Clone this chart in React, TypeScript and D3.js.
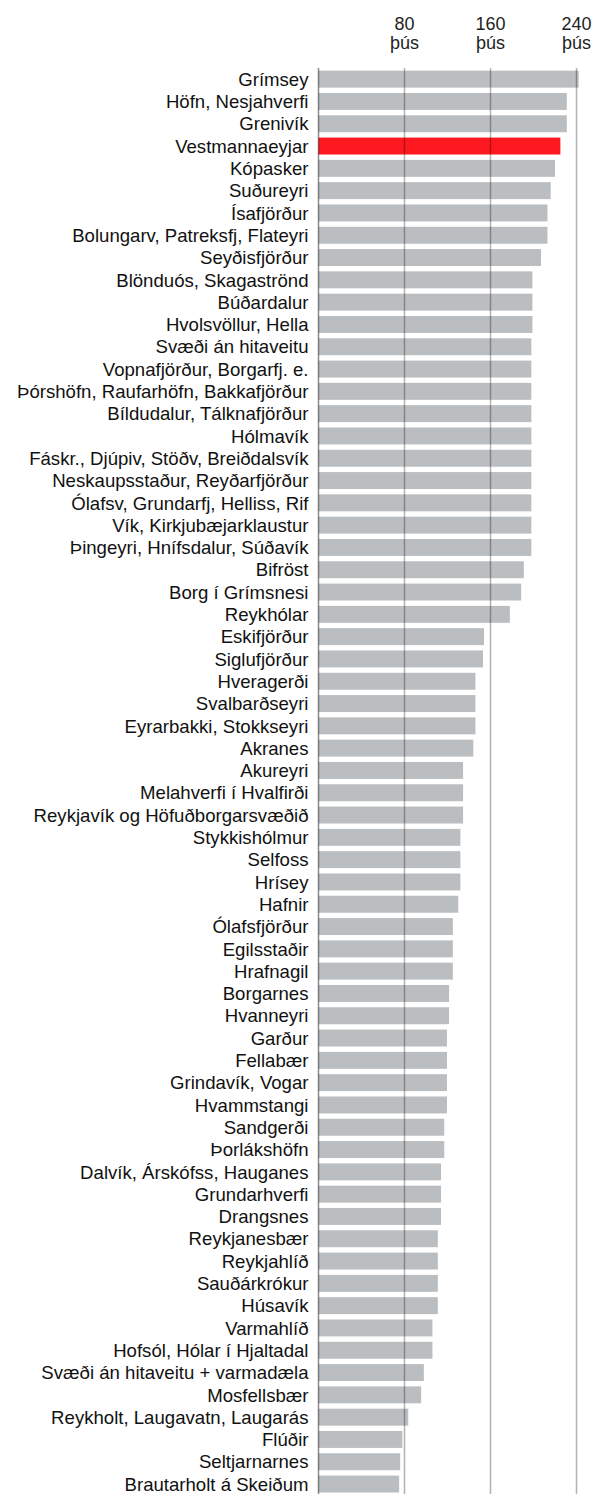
import React from 'react';
import { scaleLinear, scaleBand } from 'd3';

// Staðir, raðað eftir kostnaði
const places: string[] = [
  'Grímsey', 'Höfn, Nesjahverfi', 'Grenivík', 'Vestmannaeyjar', 'Kópasker', 'Suðureyri',
  'Ísafjörður', 'Bolungarv, Patreksfj, Flateyri', 'Seyðisfjörður', 'Blönduós, Skagaströnd',
  'Búðardalur', 'Hvolsvöllur, Hella', 'Svæði án hitaveitu', 'Vopnafjörður, Borgarfj. e.',
  'Þórshöfn, Raufarhöfn, Bakkafjörður', 'Bíldudalur, Tálknafjörður', 'Hólmavík',
  'Fáskr., Djúpiv, Stöðv, Breiðdalsvík', 'Neskaupsstaður, Reyðarfjörður',
  'Ólafsv, Grundarfj, Helliss, Rif', 'Vík, Kirkjubæjarklaustur', 'Þingeyri, Hnífsdalur, Súðavík',
  'Bifröst', 'Borg í Grímsnesi', 'Reykhólar', 'Eskifjörður', 'Siglufjörður', 'Hveragerði',
  'Svalbarðseyri', 'Eyrarbakki, Stokkseyri', 'Akranes', 'Akureyri', 'Melahverfi í Hvalfirði',
  'Reykjavík og Höfuðborgarsvæðið', 'Stykkishólmur', 'Selfoss', 'Hrísey', 'Hafnir',
  'Ólafsfjörður', 'Egilsstaðir', 'Hrafnagil', 'Borgarnes', 'Hvanneyri', 'Garður', 'Fellabær',
  'Grindavík, Vogar', 'Hvammstangi', 'Sandgerði', 'Þorlákshöfn', 'Dalvík, Árskófss, Hauganes',
  'Grundarhverfi', 'Drangsnes', 'Reykjanesbær', 'Reykjahlíð', 'Sauðárkrókur', 'Húsavík',
  'Varmahlíð', 'Hofsól, Hólar í Hjaltadal', 'Svæði án hitaveitu + varmadæla', 'Mosfellsbær',
  'Reykholt, Laugavatn, Laugarás', 'Flúðir', 'Seltjarnarnes', 'Brautarholt á Skeiðum',
];

// þúsundir króna
const costs: number[] = [
  242, 231, 231, 225, 220, 216, 213, 213, 207, 199, 199, 199, 198, 198, 198, 198, 198,
  198, 198, 198, 198, 198, 191, 188.5, 178, 154, 153, 146, 146, 146, 144, 134.5, 134.5,
  134.5, 132, 132, 132, 130, 125, 125, 125, 121.5, 121.5, 119.5, 119.5, 119.5, 119.5, 117,
  117, 114, 114, 114, 111, 111, 111, 111, 106, 106, 98, 95.5, 83.5, 78, 76, 75,
];

const highlighted = 'Vestmannaeyjar';
const tickValues: number[] = [80, 160, 240];
const tickUnit = 'þús';

const W = 593;
const H = 1494;
const font = 'Arial, "Liberation Sans", sans-serif';

const App: React.FC = () => {
  const x = scaleLinear().domain([0, 240]).range([318.5, 576.5]);
  const y = scaleBand<string>()
    .domain(places)
    .range([68, 68 + places.length * 22.3])
    .paddingInner(0.24)
    .paddingOuter(0.12);
  const gridTop = 68;

  return (
    <svg width={W} height={H} style={{ position: 'absolute', left: 0, top: 0 }} fontFamily={font}>
      <rect width={W} height={H} fill="#fff" />
      {tickValues.map(t => (
        <text key={`t${t}`} x={x(t)} textAnchor="middle" fontSize={18} fill="#222">
          <tspan x={x(t)} y={30}>{t}</tspan>
          <tspan x={x(t)} y={49}>{tickUnit}</tspan>
        </text>
      ))}
      {places.map((p, i) => (
        <g key={p}>
          <rect
            x={x(0)}
            y={y(p)}
            width={x(costs[i]) - x(0)}
            height={y.bandwidth()}
            fill={p === highlighted ? '#fe1921' : '#bbbec1'}
          />
          <text
            x={308.5}
            y={(y(p) ?? 0) + y.bandwidth() / 2}
            dy="0.36em"
            textAnchor="end"
            fontSize={18.6}
            fill="#111"
          >
            {p}
          </text>
        </g>
      ))}
      {tickValues.map(t => (
        <line
          key={`g${t}`}
          x1={x(t)}
          x2={x(t)}
          y1={gridTop}
          y2={H}
          stroke="#000"
          strokeOpacity={0.3}
          strokeWidth={1.5}
        />
      ))}
      <line x1={x(0)} x2={x(0)} y1={gridTop} y2={H} stroke="#000" strokeOpacity={0.45} strokeWidth={1.5} />
    </svg>
  );
};

export default App;
